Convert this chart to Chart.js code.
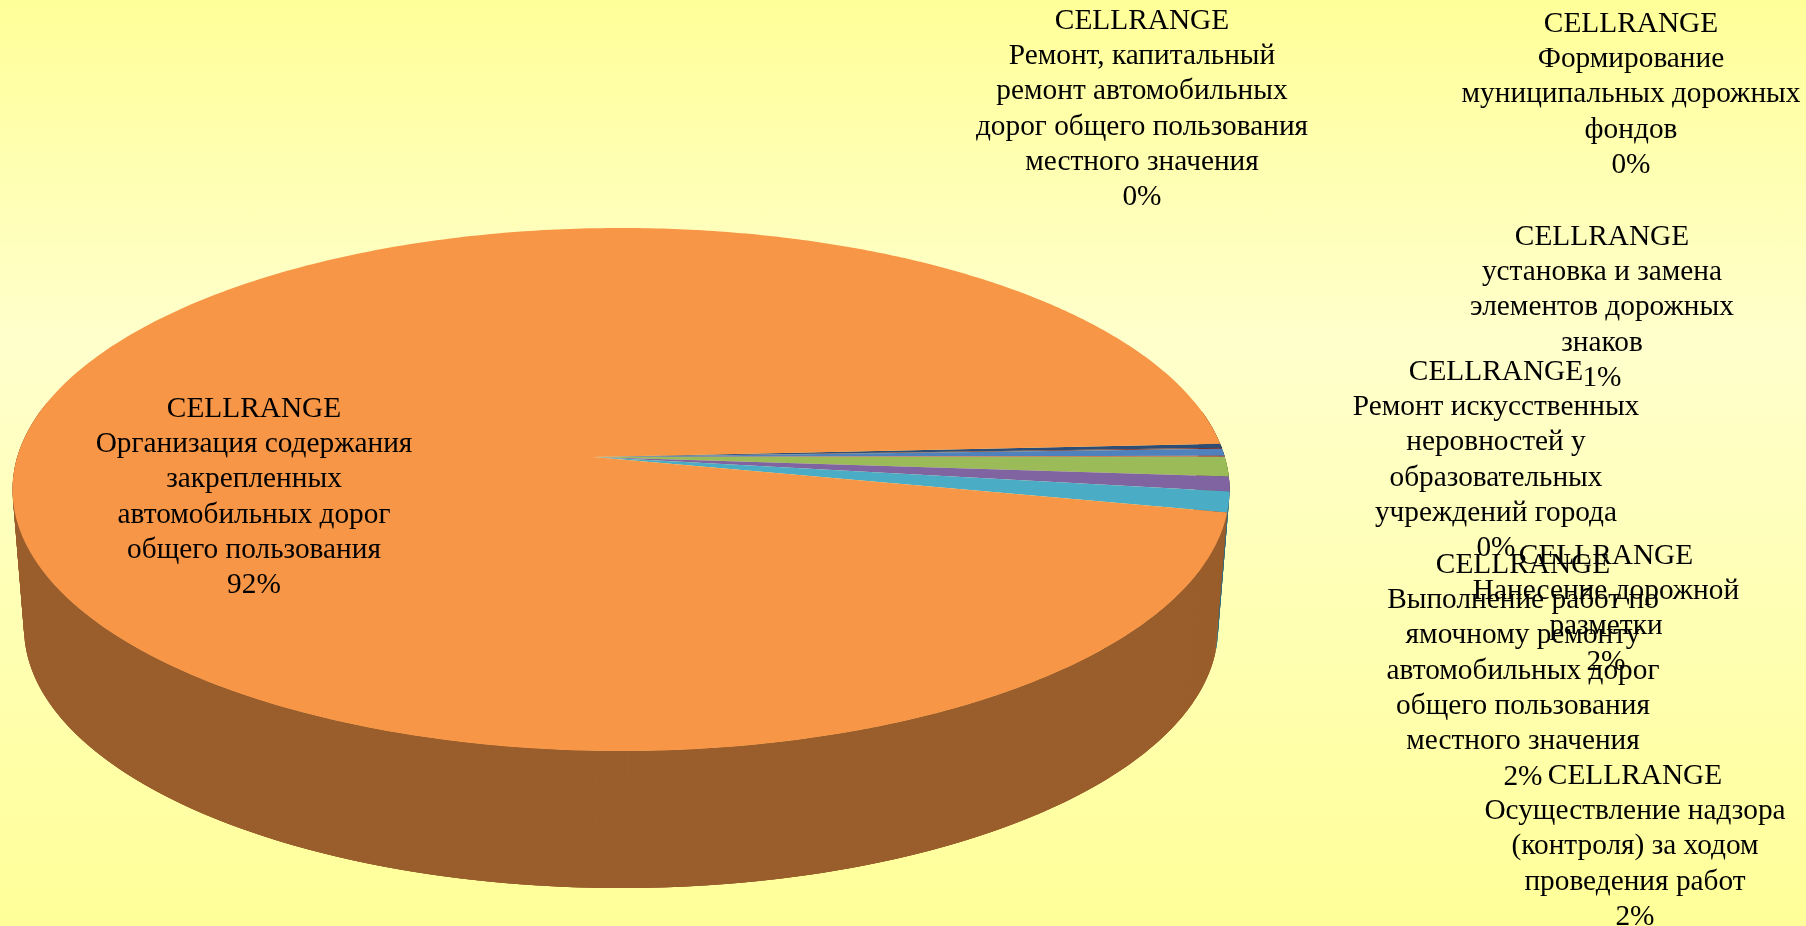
<!DOCTYPE html>
<html lang="ru">
<head>
<meta charset="utf-8">
<title>Структура расходов дорожного хозяйства</title>
<script src="https://cdn.jsdelivr.net/npm/chart.js@4"></script>
<style>
  html, body { margin: 0; padding: 0; height: 100%; overflow: hidden; }
  body { background: linear-gradient(to bottom, #FFFF99 0%, #FFFFCC 37%, #FFFF99 100%); }
  canvas { display: block; }
</style>
</head>
<body>
<canvas id="pie-chart" width="1806" height="926"></canvas>
<script>
// Chart data
const categories = [
  ['Ремонт, капитальный', 'ремонт автомобильных', 'дорог общего пользования', 'местного значения'],
  ['Формирование', 'муниципальных дорожных', 'фондов'],
  ['установка и замена', 'элементов дорожных', 'знаков'],
  ['Ремонт искусственных', 'неровностей у', 'образовательных', 'учреждений города'],
  ['Нанесение дорожной', 'разметки'],
  ['Выполнение работ по', 'ямочному ремонту', 'автомобильных дорог', 'общего пользования', 'местного значения'],
  ['Осуществление надзора', '(контроля) за ходом', 'проведения работ'],
  ['Организация содержания', 'закрепленных', 'автомобильных дорог', 'общего пользования']
];
const shares = [0.45, 0.1, 0.78, 0.1, 2.2, 1.67, 2.3, 92.4];
const rangeLabel = 'CELLRANGE';

// Styles and layout
const sliceColors = ['#2C4D75', '#772C2A', '#4F81BD', '#C0504D', '#9BBB59', '#8064A2', '#4BACC6', '#F79646'];
const labelAnchors = [
  [1142, 21], [1631, 24], [1602, 237], [1496, 372],
  [1606, 556], [1523, 565], [1635, 776], [254, 409]
];
const topEllipse = { x: 621, y: 489.5, rx: 608.5, ry: 261.5 };
const bottomEllipse = { x: 621, y: 628, rx: 597, ry: 260 };
const apex = { x: 593, y: 457 };
const rimSqueeze = 0.55;
const rimTilt = -2.5 * Math.PI / 180;
const wallShade = 0.625;

function rimAngle(angle) {
  const half = angle / 2;
  return rimTilt + 2 * Math.atan2(rimSqueeze * Math.sin(half), Math.cos(half));
}

function rimPoint(ellipse, angle) {
  const a = rimAngle(angle);
  return { x: ellipse.x + ellipse.rx * Math.cos(a), y: ellipse.y + ellipse.ry * Math.sin(a) };
}

function shade(hex) {
  const n = parseInt(hex.slice(1), 16);
  const c = [n >> 16, (n >> 8) & 255, n & 255].map(v => Math.round(v * wallShade));
  return `rgb(${c[0]},${c[1]},${c[2]})`;
}

// Draws the arcs computed by Chart.js as a tilted pie with a side wall
const tiltedPie = {
  id: 'tiltedPie',
  beforeDatasetDraw(chart, args) {
    const ctx = chart.ctx;
    const arcs = chart.getDatasetMeta(args.index).data;
    const step = Math.PI / 360;
    const quads = [];

    arcs.forEach((arc, i) => {
      const color = shade(sliceColors[i]);
      for (let a = arc.startAngle; a < arc.endAngle; a += step) {
        // pieces overlap so that no seams show between them
        const b = Math.min(a + 3 * step, arc.endAngle);
        const depth = Math.sin(rimAngle(a));
        // the back of the wall is hidden behind the top surface
        if (depth > -0.3) quads.push({ a, b, color, depth });
      }
    });
    quads.sort((p, q) => p.depth - q.depth);

    ctx.save();
    quads.forEach(q => {
      const p1 = rimPoint(topEllipse, q.a);
      const p2 = rimPoint(topEllipse, q.b);
      const p3 = rimPoint(bottomEllipse, q.b);
      const p4 = rimPoint(bottomEllipse, q.a);
      ctx.beginPath();
      ctx.moveTo(p1.x, p1.y);
      ctx.lineTo(p2.x, p2.y);
      ctx.lineTo(p3.x, p3.y);
      ctx.lineTo(p4.x, p4.y);
      ctx.closePath();
      ctx.fillStyle = q.color;
      ctx.fill();
    });

    // Top surface
    arcs.forEach((arc, i) => {
      ctx.beginPath();
      ctx.moveTo(apex.x, apex.y);
      for (let a = arc.startAngle; a < arc.endAngle; a += step) {
        const p = rimPoint(topEllipse, a);
        ctx.lineTo(p.x, p.y);
      }
      const end = rimPoint(topEllipse, arc.endAngle);
      ctx.lineTo(end.x, end.y);
      ctx.closePath();
      ctx.fillStyle = sliceColors[i];
      ctx.fill();
    });
    ctx.restore();
    return false;
  },
  afterDatasetsDraw(chart) {
    const ctx = chart.ctx;
    const lineHeight = 35.3;
    ctx.save();
    ctx.font = '29.33px "Liberation Serif"';
    ctx.fillStyle = '#000';
    ctx.textAlign = 'center';
    ctx.textBaseline = 'middle';
    categories.forEach((lines, i) => {
      const text = [rangeLabel, ...lines, Math.round(shares[i]) + '%'];
      text.forEach((line, j) => {
        ctx.fillText(line, labelAnchors[i][0], labelAnchors[i][1] + j * lineHeight);
      });
    });
    ctx.restore();
  }
};

new Chart(document.getElementById('pie-chart'), {
  type: 'pie',
  data: {
    labels: categories.map(lines => lines.join(' ')),
    datasets: [{ data: shares, backgroundColor: sliceColors }]
  },
  options: {
    responsive: false,
    animation: false,
    rotation: 76.3,
    plugins: {
      legend: { display: false },
      tooltip: { enabled: false }
    }
  },
  plugins: [tiltedPie]
});
</script>
</body>
</html>
